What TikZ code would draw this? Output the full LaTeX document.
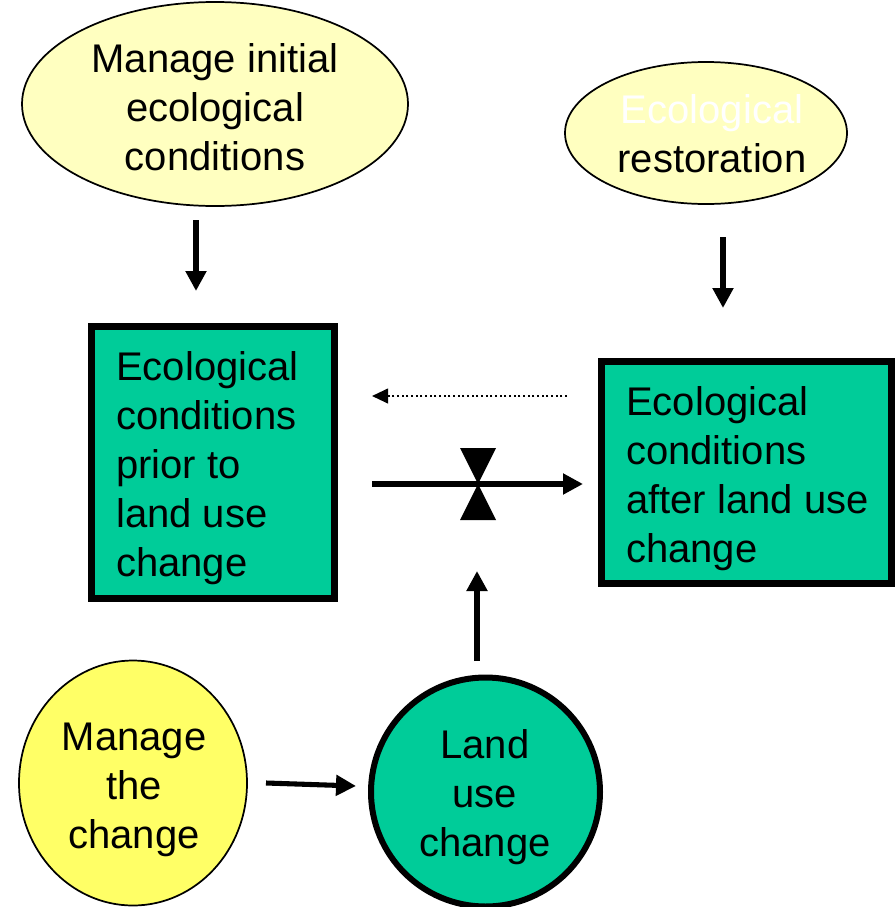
\documentclass[tikz,border=0pt]{standalone}
\usepackage{fontspec}
\setmainfont{Liberation Sans}
\usetikzlibrary{shapes.geometric,arrows.meta}
\definecolor{paleyel}{HTML}{FFFFC0}
\definecolor{brightyel}{HTML}{FFFF66}
\definecolor{teal1}{HTML}{00CC99}
\begin{document}
\begin{tikzpicture}[x=0.75pt,y=-0.75pt,
  txt/.style={font=\fontsize{30pt}{36.75pt}\selectfont,inner sep=0pt},
  ctxt/.style={txt,align=center},
  ltxt/.style={txt,align=left,anchor=west},
  oval/.style={ellipse,draw=black,line width=1.3pt,inner sep=0pt},
  gbox/.style={rectangle,draw=black,fill=teal1,line width=5.25pt,inner sep=0pt},
  arr/.style={line width=3.8pt,-{Triangle[length=15pt,width=15pt]}},
  dotarr/.style={line width=1.5pt,dotted,-{Triangle[length=12pt,width=11pt]}}]
\useasboundingbox (0,0) rectangle (895,907);
% ovals
\node[oval,fill=paleyel,minimum width=386*0.75pt,minimum height=204*0.75pt] (mi) at (215,104) {};
\node[ctxt] (mit) at (215,107) {Manage initial\\ecological\\conditions};
\node[oval,fill=paleyel,minimum width=282*0.75pt,minimum height=142*0.75pt] (er) at (706,133) {};
\node[ctxt] (ert) at (712,134) {{\color{white}Ecological}\\restoration};
\node[oval,fill=brightyel,minimum width=228*0.75pt,minimum height=245*0.75pt] (mc) at (133,783) {};
\node[ctxt] (mct) at (134,790) {Manage\\the\\change};
\node[circle,draw=black,fill=teal1,line width=4.5pt,minimum size=229*0.75pt,inner sep=0pt] (luc) at (485.5,792) {};
\node[ctxt] (luct) at (485,797) {Land\\use\\change};
% boxes
\node[gbox,minimum width=243*0.75pt,minimum height=272*0.75pt] (pre) at (213,462.5) {};
\node[ltxt] (pret) at (116,468.5) {Ecological\\conditions\\prior to\\land use\\change};
\node[gbox,minimum width=290*0.75pt,minimum height=222*0.75pt] (post) at (746.5,472.5) {};
\node[ltxt] (postt) at (626,478.5) {Ecological\\conditions\\after land use\\change};
% connector ends
\coordinate (a1s) at (196,220); \coordinate (a1e) at (196,291);
\coordinate (a2s) at (723,237); \coordinate (a2e) at (723,308);
\coordinate (ds) at (567,396); \coordinate (de) at (372,396);
\coordinate (ms) at (372,484); \coordinate (me) at (583,484);
\coordinate (us) at (477,661); \coordinate (ue) at (477,571);
\coordinate (hs) at (266,783); \coordinate (he) at (356,786);
\coordinate (v) at (478,484);
\draw[arr] (a1s) -- (a1e);
\draw[arr] (a2s) -- (a2e);
\draw[dotarr] (ds) -- (de);
\draw[arr] (ms) -- (me);
\draw[arr] (us) -- (ue);
\draw[arr] (hs) -- (he);
% valve
\fill (v) -- ++(-18,-36) -- ++(36,0) -- cycle;
\fill (v) -- ++(-18,36) -- ++(36,0) -- cycle;
\end{tikzpicture}
\end{document}
